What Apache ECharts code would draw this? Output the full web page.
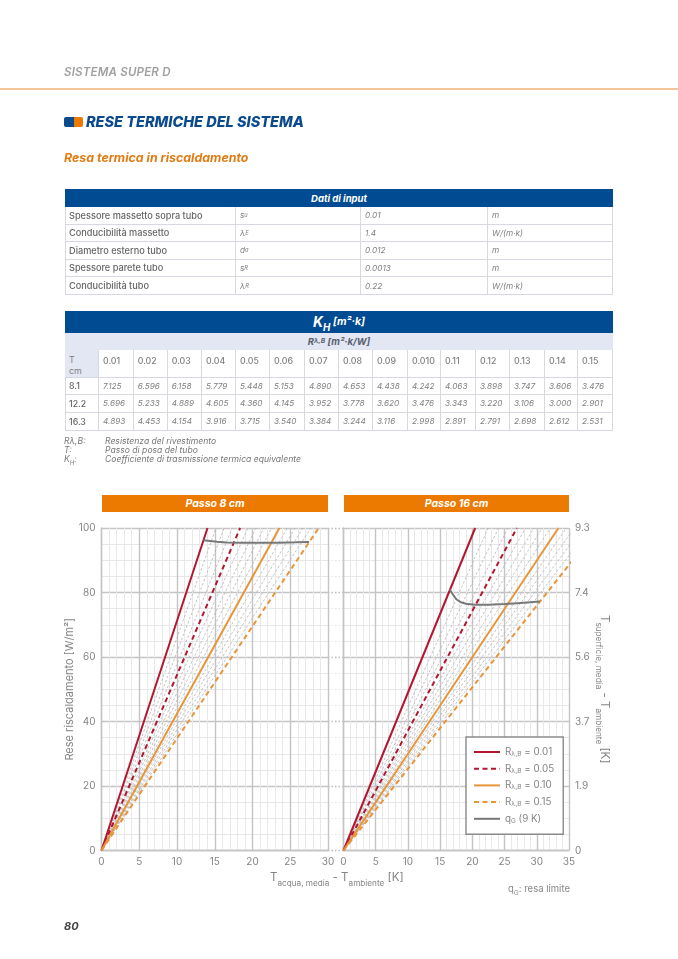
<!DOCTYPE html>
<html><head><meta charset="utf-8">
<style>
html,body{margin:0;padding:0;background:#fff;width:678px;height:959px;overflow:hidden;font-family:Inter,"Open Sans",sans-serif}
#chart{position:absolute;left:0;top:0;width:678px;height:959px}
#page{position:absolute;left:0;top:0;width:678px;height:959px;pointer-events:none}
.t{position:absolute;white-space:nowrap;line-height:1}
.c{position:absolute;box-sizing:border-box;display:flex;align-items:center;white-space:nowrap;border-right:1px solid #d6dae0;border-bottom:1px solid #d6dae0;color:#808080;font-style:italic;padding-left:4px}
.c.b{font-style:normal;font-weight:500;color:#666}
.hd{position:absolute;background:#004b91;color:#fff;font-weight:700;font-style:italic;display:flex;align-items:center;justify-content:center}
sub{font-size:70%;line-height:0}
</style>
<script src="https://cdn.jsdelivr.net/npm/echarts@6/dist/echarts.min.js"></script>
</head><body>
<div id="chart"></div>
<div id="page"></div>
<script>
// --- table data ---
const inputRows = [
  ['Spessore massetto sopra tubo','s<sub>u</sub>','0.01','m'],
  ['Conducibilità massetto','λ<sub>E</sub>','1.4','W/(m·k)'],
  ['Diametro esterno tubo','d<sub>a</sub>','0.012','m'],
  ['Spessore parete tubo','s<sub>R</sub>','0.0013','m'],
  ['Conducibilità tubo','λ<sub>R</sub>','0.22','W/(m·k)']
];
const resistanceHeads = ['0.01','0.02','0.03','0.04','0.05','0.06','0.07','0.08','0.09','0.010','0.11','0.12','0.13','0.14','0.15'];
const stepLabels = ['8.1','12.2','16.3'];
const kStep8  = ['7.125','6.596','6.158','5.779','5.448','5.153','4.890','4.653','4.438','4.242','4.063','3.898','3.747','3.606','3.476'];
const kStep12 = ['5.696','5.233','4.889','4.605','4.360','4.145','3.952','3.778','3.620','3.476','3.343','3.220','3.106','3.000','2.901'];
const kStep16 = ['4.893','4.453','4.154','3.916','3.715','3.540','3.384','3.244','3.116','2.998','2.891','2.791','2.698','2.612','2.531'];
// --- chart data: ΔT [K] at which each R line reaches 100 W/m² ---
const endT8  = [14.04,15.16,16.24,17.30,18.36,19.41,20.45,21.49,22.53,23.57,24.61,25.65,26.69,27.73,28.77];
const endT16 = [20.44,22.46,24.07,25.54,26.92,28.25,29.55,30.83,32.09,33.36,34.59,35.83,37.06,38.28,39.51];
const limit8  = [[13.5,96.2],[14.4,96.0],[15.3,95.75],[16.5,95.5],[18.4,95.4],[20.5,95.4],[23.5,95.45],[25.7,95.55],[27.5,95.65]];
const limit16 = [[16.5,80.9],[16.9,79.6],[17.5,77.9],[18.2,77.0],[19.0,76.5],[20.4,76.2],[22.5,76.2],[25.0,76.4],[27.0,76.7],[29.0,77.0],[30.5,77.2]];
const xTicksLeft = 30, xTicksRight = 35;
const surfaceMax = 9.3;
const highlight = {0:['R 0.01','#b3172f','solid'],4:['R 0.05','#b3172f','dashed'],9:['R 0.10','#e8953a','solid'],14:['R 0.15','#e8953a','dashed']};
const legendText = {'R 0.01':'0.01','R 0.05':'0.05','R 0.10':'0.10','R 0.15':'0.15'};

// --- page furniture ---
const page = document.getElementById('page');
function el(cls,x,y,w,h,html,css){const d=document.createElement('div');d.className=cls;d.style.cssText=`left:${x}px;top:${y}px;`+(w?`width:${w}px;`:'')+(h?`height:${h}px;`:'')+(css||'');d.innerHTML=html;page.appendChild(d);return d;}
el('t',64,67,0,0,'SISTEMA SUPER D','font-size:11.5px;font-style:italic;font-weight:600;color:#a0a0a0;letter-spacing:.2px');
el('t',0,88,678,1.5,'','background:#f4c596');
el('t',64,117,10,10,'','background:#0b4a8c;border-radius:2px 0 0 2px');
el('t',74,117,9,10,'','background:#ec7a00;border-radius:0 2px 2px 0');
el('t',86,115,0,0,'RESE TERMICHE DEL SISTEMA','font-size:14.5px;font-weight:800;font-style:italic;color:#0b4a8c');
el('t',64,152,0,0,'Resa termica in riscaldamento','font-size:12.4px;font-weight:700;font-style:italic;color:#e07d14');
el('t',64,921,0,0,'80','font-size:11px;font-weight:700;font-style:italic;color:#444');
el('t',508,884,0,0,'q<sub>G</sub>: resa limite','font-size:9.5px;color:#888');

// input table
el('hd',65,189,548,18,'Dati di input','font-size:9.5px');
const inCols=[65,236,361,488,613], inRows=[207,224.5,242,259.5,277,295];
el('t',65,207,0,88,'','border-left:1px solid #d6dae0');
inputRows.forEach((r,i)=>r.forEach((v,j)=>{
  el('c'+(j==0?' b':''),inCols[j],inRows[i],inCols[j+1]-inCols[j],inRows[i+1]-inRows[i],v,'font-size:'+(j==0?9.2:8.2)+'px');
}));

// K table
el('hd',65,311,548,21.5,'<span style="font-size:14px">K<sub>H</sub></span>&nbsp;[m²·k]','font-size:10.5px');
el('hd',65,332.5,548,17.5,'R<sub>λ,B</sub>&nbsp;[m²·k/W]','font-size:9.5px;background:#e3e7f3;color:#5a6070');
const kCols=[65,99,133.7,167.7,202,236,270,305,339,373,408,441,476,510,545,578,613];
const kRows=[350,377.5,395,412.5,430.5];
el('t',65,350,0,80.5,'','border-left:1px solid #d6dae0');
el('c',kCols[0],kRows[0],kCols[1]-kCols[0],kRows[1]-kRows[0],'T<br>cm','font-style:normal;font-size:8.8px;background:#e3e7f3;white-space:normal;line-height:10.5px;padding-top:5px;display:block');
resistanceHeads.forEach((v,j)=>el('c',kCols[j+1],kRows[0],kCols[j+2]-kCols[j+1],kRows[1]-kRows[0],v,'font-style:normal;font-size:8.8px;font-weight:500;align-items:flex-start;padding-top:5px'));
[kStep8,kStep12,kStep16].forEach((row,i)=>{
  el('c b',kCols[0],kRows[i+1],kCols[1]-kCols[0],kRows[i+2]-kRows[i+1],stepLabels[i],'font-size:8.8px');
  row.forEach((v,j)=>el('c',kCols[j+1],kRows[i+1],kCols[j+2]-kCols[j+1],kRows[i+2]-kRows[i+1],v,'font-size:8.2px'));
});
[['Rλ,B:','Resistenza del rivestimento'],['T:','Passo di posa del tubo'],['K<sub>H</sub>:','Coefficiente di trasmissione termica equivalente']].forEach((r,i)=>{
  el('t',64,437+i*9.2,0,0,r[0],'font-size:8.6px;font-style:italic;color:#777');
  el('t',105,437+i*9.2,0,0,r[1],'font-size:8.6px;font-style:italic;color:#777');
});
el('hd',102,495,226,17,'Passo 8 cm','font-size:10.5px;background:#ec7a00');
el('hd',344,495,225,17,'Passo 16 cm','font-size:10.5px;background:#ec7a00');

// --- chart ---
const GRID_LINE='#c4c4c4', MINOR='#e8e8e8', LABEL='#858585';
function lines(ends,xi,yi){
  const grey=[], hi=[];
  ends.forEach((t,i)=>{
    const h=highlight[i];
    const s={type:'line',xAxisIndex:xi,yAxisIndex:yi,symbol:'none',silent:true,animation:false,clip:true,
      data:[[0,0],[t,100]],name:h?h[0]:'R'+resistanceHeads[i],
      lineStyle:h?{color:h[1],width:2,type:h[2]=='dashed'?[5,3.5]:'solid'}:{color:'#b4b4b4',width:.8,type:[2.5,2]},z:h?4:3};
    (h?hi:grey).push(s);
  });
  return grey.concat(hi);
}
function limitLine(d,xi,yi){return {type:'line',name:'qG',xAxisIndex:xi,yAxisIndex:yi,symbol:'none',smooth:false,animation:false,silent:true,data:d,z:5,lineStyle:{color:'#77787a',width:2},itemStyle:{color:'#77787a'}};}
function xAxis(gi,max){return {type:'value',gridIndex:gi,min:0,max:max,interval:5,
  axisLine:{show:true,onZero:false,lineStyle:{color:GRID_LINE,width:1.4}},axisTick:{show:false},
  axisLabel:{color:LABEL,fontSize:10,margin:6,fontFamily:'Inter'},
  splitLine:{show:true,lineStyle:{color:GRID_LINE,width:1.4}},
  minorTick:{show:false,splitNumber:5},minorSplitLine:{show:true,lineStyle:{color:MINOR,width:1}}};}
function yAxis(gi,showLabels){return {type:'value',gridIndex:gi,min:0,max:100,interval:20,
  axisLine:{show:true,onZero:false,lineStyle:{color:GRID_LINE,width:1.4}},axisTick:{show:false},
  axisLabel:{show:showLabels,color:LABEL,fontSize:10,margin:6,fontFamily:'Inter'},
  splitLine:{show:true,lineStyle:{color:GRID_LINE,width:1.4}},
  minorTick:{show:false,splitNumber:4},minorSplitLine:{show:true,lineStyle:{color:MINOR,width:1}}};}
const subRich={a:{fontSize:11.5,color:LABEL,fill:LABEL,fontFamily:'Inter',verticalAlign:'top',lineHeight:14},s:{fontSize:8.2,color:LABEL,fill:LABEL,fontFamily:'Inter',verticalAlign:'bottom',lineHeight:16}};
const leftY=yAxis(0,true);
Object.assign(leftY,{name:'Rese riscaldamento [W/m²]',nameLocation:'middle',nameGap:18,nameRotate:90,nameTextStyle:{color:LABEL,fontSize:11,fontFamily:'Inter'}});
const rightLabels={type:'value',gridIndex:1,position:'right',min:0,max:surfaceMax,interval:surfaceMax/5,
  axisLine:{show:false},axisTick:{show:false},splitLine:{show:false},
  axisLabel:{color:LABEL,fontSize:10,margin:6,fontFamily:'Inter',formatter:v=>v==0?'0':v.toFixed(1)},
  name:'{a|T}{s|superficie, media}{a| - T}{s|ambiente}{a| [K]}',nameLocation:'middle',nameGap:25,nameRotate:-90,nameTextStyle:{rich:subRich}};
const gapY=yAxis(2,false);
gapY.axisLine={show:false};
gapY.splitLine={show:true,lineStyle:{color:'#bdbdbd',width:1.4,type:[1.5,2]}};
gapY.minorSplitLine={show:true,lineStyle:{color:'#e2e2e2',width:1,type:[1.5,2]}};
const option={
  animation:false,backgroundColor:'transparent',
  grid:[{left:101.5,top:528,width:226.5,height:322.5},{left:343.5,top:528,width:225.5,height:322.5},{left:328,top:528,width:15.5,height:322.5}],
  xAxis:[xAxis(0,xTicksLeft),xAxis(1,xTicksRight),{type:'value',gridIndex:2,min:0,max:1,show:false}],
  yAxis:[leftY,yAxis(1,false),gapY,rightLabels],
  legend:{show:true,orient:'vertical',left:466,top:737,data:['R 0.01','R 0.05','R 0.10','R 0.15','qG'],
    itemWidth:26,itemHeight:10,itemGap:6.2,padding:[10,9,10,7],backgroundColor:'#fff',borderColor:'#8a8a8a',borderWidth:1.4,borderRadius:0,
    selectedMode:false,itemStyle:{opacity:0},
    formatter:n=>n=='qG'?'{a|q}{s|G}{a| (9 K)}':'{a|R}{s|λ,B}{a| = '+legendText[n]+'}',
    textStyle:{rich:{a:{fontSize:9.8,color:'#858585',fontFamily:'Inter'},s:{fontSize:6.5,color:'#858585',fontFamily:'Inter',verticalAlign:'bottom',padding:[4,0,0,0]}}}},
  graphic:[{type:'text',left:270,top:872,silent:true,style:{text:'{a|T}{s|acqua, media}{a| - T}{s|ambiente}{a| [K]}',rich:subRich}}],
  series:[...lines(endT8,0,0),limitLine(limit8,0,0),...lines(endT16,1,1),limitLine(limit16,1,1),
    {type:'line',xAxisIndex:2,yAxisIndex:2,data:[],silent:true},{type:'line',xAxisIndex:1,yAxisIndex:3,data:[],silent:true}]
};
const chart=echarts.init(document.getElementById('chart'),null,{renderer:'canvas'});
chart.setOption(option);
</script>
</body></html>
